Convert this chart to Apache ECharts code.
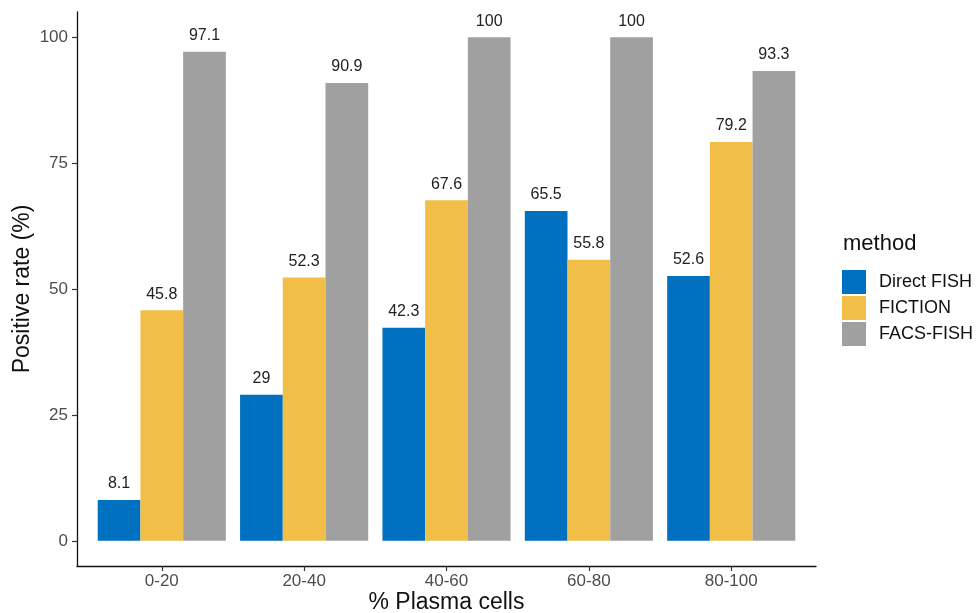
<!DOCTYPE html>
<html>
<head>
<meta charset="utf-8">
<script src="https://cdn.jsdelivr.net/npm/echarts@6/dist/echarts.min.js"></script>
<style>html,body{margin:0;padding:0;background:#fff;}#c{width:980px;height:613px;}</style>
</head>
<body>
<div id="c"></div>
<script>
var categories = ['0-20', '20-40', '40-60', '60-80', '80-100'];
var seriesNames = ['Direct FISH', 'FICTION', 'FACS-FISH'];
var directFISH = [8.1, 29, 42.3, 65.5, 52.6];
var fiction = [45.8, 52.3, 67.6, 55.8, 79.2];
var facsFISH = [97.1, 90.9, 100, 100, 93.3];
var yTicks = [0, 25, 50, 75, 100];
var colors = ['#0070C0', '#F1BE48', '#A0A0A0'];

var chart = echarts.init(document.getElementById('c'), null, {renderer: 'canvas'});
var font = 'Liberation Sans, Arial, sans-serif';
function mk(name, data, i) {
  return {
    name: name, type: 'bar', data: data, xAxisIndex: 1, yAxisIndex: 1,
    barGap: '0%', barCategoryGap: '10%',
    itemStyle: {color: colors[i]},
    label: {show: true, position: 'top', distance: 8, color: '#222', fontSize: 16, fontFamily: font},
    emphasis: {disabled: true}
  };
}
chart.setOption({
  animation: false,
  backgroundColor: '#fff',
  title: {text: 'method', left: 843, top: 233, padding: 0,
          textStyle: {fontSize: 22, fontWeight: 'normal', color: '#111', fontFamily: font}},
  legend: {
    orient: 'vertical', left: 842, top: 270, padding: 0, itemWidth: 24, itemHeight: 24, itemGap: 2,
    icon: 'rect', data: seriesNames,
    textStyle: {fontSize: 18, color: '#111', fontFamily: font, padding: [0, 0, 0, 8]}
  },
  grid: [
    {left: 77, right: 164, top: 12, bottom: 47, containLabel: false, outerBoundsMode: 'none'},
    {left: 90.6, right: 177.6, top: 12, bottom: 47, containLabel: false, outerBoundsMode: 'none'}
  ],
  xAxis: [
    {gridIndex: 0, type: 'value', min: 0, max: 1, position: 'bottom',
     axisLine: {show: true, onZero: false, lineStyle: {color: '#111', width: 1.3}},
     axisTick: {show: false}, axisLabel: {show: false}, splitLine: {show: false}},
    {gridIndex: 1, type: 'category', data: categories, position: 'bottom',
     axisLine: {show: false, onZero: false},
     axisTick: {show: true, alignWithLabel: true, length: 5, lineStyle: {color: '#333', width: 1.2}},
     axisLabel: {color: '#4D4D4D', fontSize: 17, fontFamily: font, margin: 7},
     name: '% Plasma cells', nameLocation: 'middle', nameGap: 25, nameMoveOverlap: false,
     nameTextStyle: {fontSize: 23, color: '#111', fontFamily: font}}
  ],
  yAxis: [
    {gridIndex: 0, type: 'value', min: -5, max: 105, position: 'left',
     axisLine: {show: true, onZero: false, lineStyle: {color: '#111', width: 1.3}},
     axisTick: {show: true, length: 5, customValues: yTicks, lineStyle: {color: '#333', width: 1.2}},
     axisLabel: {customValues: yTicks, color: '#4D4D4D', fontSize: 17, fontFamily: font, margin: 9},
     splitLine: {show: false},
     name: 'Positive rate (%)', nameLocation: 'middle', nameGap: 43, nameMoveOverlap: false,
     nameTextStyle: {fontSize: 23, color: '#111', fontFamily: font}},
    {gridIndex: 1, type: 'value', min: -5, max: 105, show: false, splitLine: {show: false}}
  ],
  series: [mk(seriesNames[0], directFISH, 0), mk(seriesNames[1], fiction, 1), mk(seriesNames[2], facsFISH, 2)]
});
</script>
</body>
</html>
